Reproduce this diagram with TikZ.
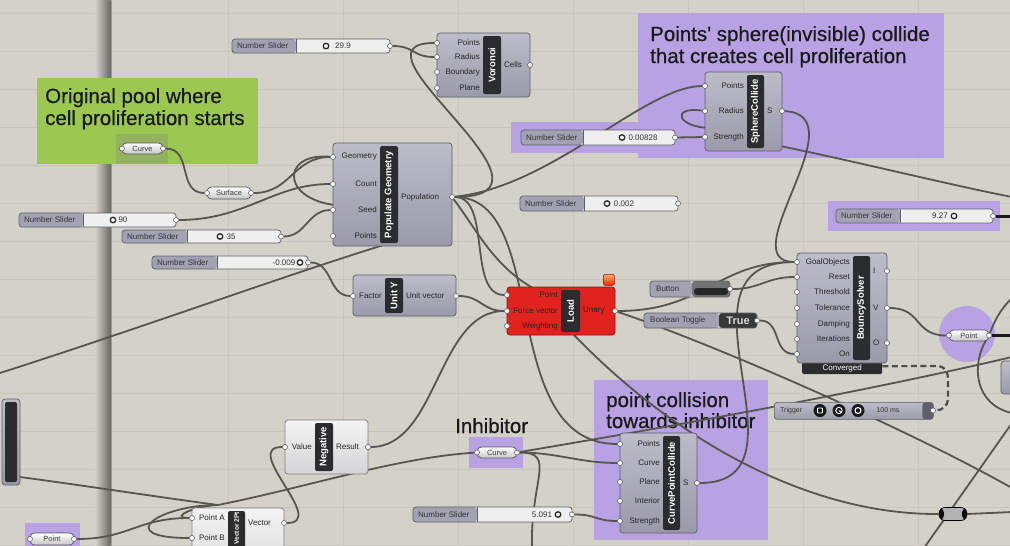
\documentclass[tikz,border=0pt]{standalone}
\usepackage{fontspec}
\setmainfont{Liberation Sans}
\newfontfamily\titlefont[FakeBold=0.6]{Liberation Sans}
\pgfdeclarelayer{bg}
\pgfdeclarelayer{wire}
\pgfsetlayers{bg,wire,main}

\definecolor{canvas}{HTML}{D4D1C8}
\definecolor{gridc}{HTML}{C8C5BC}
\definecolor{grpgreen}{HTML}{9CC852}
\definecolor{grppurple}{HTML}{B8A2E4}
\definecolor{wirec}{HTML}{57554F}
\definecolor{bodytop}{HTML}{BDBCC9}
\definecolor{bodybot}{HTML}{9B9AAA}
\definecolor{edgec}{HTML}{5F5E6A}
\definecolor{stripc}{HTML}{2C2C2E}
\definecolor{lighttop}{HTML}{F4F4F4}
\definecolor{lightbot}{HTML}{D4D4D6}
\definecolor{loadred}{HTML}{E2221E}
\definecolor{slidlbl}{HTML}{A3A2B3}
\definecolor{sliderw}{HTML}{EFEFEF}

\tikzset{
  comp/.style={draw=edgec, line width=0.7pt, rounded corners=3pt, top color=bodytop, bottom color=bodybot},
  lightcomp/.style={draw=edgec!80, line width=0.7pt, rounded corners=3pt, top color=lighttop, bottom color=lightbot},
  loadcomp/.style={draw=loadred!60!black, line width=0.7pt, rounded corners=3pt, fill=loadred},
  stripbox/.style={fill=stripc, rounded corners=2pt, inner sep=0pt, outer sep=0pt},
  striptxt/.style={rotate=90, text=white, font=\bfseries\fontsize{9.5}{10}\selectfont, inner sep=0pt},
  inlbl/.style={anchor=east, inner sep=0pt, font=\fontsize{8}{9}\selectfont, text=black!85},
  outlbl/.style={anchor=west, inner sep=0pt, font=\fontsize{8}{9}\selectfont, text=black!85},
  port/.style={circle, draw=edgec, fill=white, line width=0.6pt, inner sep=0pt, minimum size=5pt},
  sliderbox/.style={draw=edgec, line width=0.7pt, rounded corners=3pt, fill=sliderw, inner sep=0pt, outer sep=0pt},
  sldtxt/.style={inner sep=0pt, font=\fontsize{8}{9}\selectfont, text=black!80},
  knob/.style={circle, draw=black!85, line width=1.3pt, fill=white, inner sep=0pt, minimum size=5.5pt},
  parambox/.style={draw=edgec!90!black, line width=0.7pt, rounded corners=4.5pt, top color=white, bottom color=black!22, inner sep=0pt, outer sep=0pt},
  ptxt/.style={inner sep=0pt, font=\fontsize{7.5}{9}\selectfont, text=black!75},
  title/.style={anchor=base west, inner sep=0pt, font=\titlefont\fontsize{20.5}{24}\selectfont, text=black!90},
  wire/.style={draw=wirec, line width=1.8pt},
  treewire/.style={draw=black!90, line width=3pt},
  dashwire/.style={draw=black!70, line width=2.2pt, dash pattern=on 6pt off 3.5pt},
}

% component body: style, name, x1, y1, x2, y2
\newcommand\ghbody[6]{\node[#1,anchor=north west,inner sep=0pt,outer sep=0pt,minimum width={#5-#3},minimum height={#6-#4}] (#2) at (#3,#4) {};}
% black title strip: name, sx1, sx2, y1, y2, label
\newcommand\ghstrip[6]{%
  \node[stripbox,anchor=north west,minimum width={#3-#2},minimum height={#5-#4-6}] (#1-s) at (#2,{#4+3}) {};
  \node[striptxt] (#1-t) at (#1-s.center) {#6};}
% input / output port: name, x, y, label x, label
\newcommand\ghin[5]{\node[port] (#1) at (#2,#3) {};\node[inlbl] (#1-l) at (#4,#3) {#5};}
\newcommand\ghout[5]{\node[port] (#1) at (#2,#3) {};\node[outlbl] (#1-l) at (#4,#3) {#5};}
% number slider: name, x1, y1, x2, y2, split x, value, value x, knob x
\newcommand\ghslider[9]{%
  \node[sliderbox,anchor=north west,minimum width={#4-#2},minimum height={#5-#3},
    path picture={\fill[slidlbl] (path picture bounding box.north west) rectangle ++({#6-#2},{#5-#3});
      \draw[edgec,line width=0.6pt] ([xshift={#6-#2}]path picture bounding box.north west) -- ([xshift={#6-#2}]path picture bounding box.south west);}] (#1) at (#2,#3) {};
  \node[sldtxt,anchor=west] (#1-n) at ({#2+5},{(#3+#5)/2}) {Number Slider};
  \node[sldtxt] (#1-v) at ({#8},{(#3+#5)/2}) {#7};
  \node[knob] (#1-k) at ({#9},{(#3+#5)/2}) {};
  \node[port] (#1-o) at ({#4},{(#3+#5)/2}) {};}
% parameter capsule: name, x1, y1, x2, y2, text
\newcommand\ghparam[6]{%
  \node[parambox,anchor=north west,minimum width={#4-#2},minimum height={#5-#3}] (#1) at (#2,#3) {};
  \node[ptxt] (#1-t) at (#1.center) {#6};
  \node[port] (#1-i) at (#1.west) {};
  \node[port] (#1-o) at (#1.east) {};}

\begin{document}
\begin{tikzpicture}[x=1pt,y=-1pt]
\useasboundingbox (0,0) rectangle (1010,546);

% ---------- canvas, grid and groups ----------
\begin{pgfonlayer}{bg}
  \fill[canvas] (0,0) rectangle (1010,546);
  \foreach \gy in {13,51,...,545} \draw[gridc,line width=0.8pt] (0,\gy) -- (1010,\gy);
  \foreach \gx in {228,343,...,918} \draw[gridc,line width=0.8pt] (\gx,0) -- (\gx,546);
  \shade[left color=canvas, right color=canvas!50!black] (95,0) rectangle (110.5,546);
  \fill[canvas!75!black] (110.5,0) rectangle (112,546);

  % green group
  \fill[grpgreen] (37,78) rectangle (258,164);
  \fill[grpgreen!70!gray] (116,134) rectangle (168,164);
  \node[title] (g1a) at (45,103) {Original pool where};
  \node[title] (g1b) at (45,125) {cell proliferation starts};

  % purple groups
  \fill[grppurple] (638,13) rectangle (944,158);
  \fill[grppurple] (511,122) rectangle (683,153);
  \node[title] (g2a) at (650,41) {Points' sphere(invisible) collide};
  \node[title] (g2b) at (650,63) {that creates cell proliferation};
  \fill[grppurple] (828,201) rectangle (1000,231);
  \fill[grppurple] (967,334) circle (28);
  \fill[grppurple] (469,437) rectangle (523,468);
  \node[title] (g3) at (455,433) {Inhibitor};
  \fill[grppurple] (594,380) rectangle (768,540);
  \node[title] (g4a) at (606,407) {point collision};
  \node[title] (g4b) at (606,428) {towards inhibitor};
  \fill[grppurple] (25,523) rectangle (80,550);
\end{pgfonlayer}

% ---------- components ----------
% Populate Geometry
\ghbody{comp}{pg}{333}{143}{452}{246}
\ghstrip{pg}{380}{398}{143}{246}{Populate Geometry}
\ghin{pg-geo}{333}{157}{377}{Geometry}
\ghin{pg-cnt}{333}{184}{377}{Count}
\ghin{pg-seed}{333}{210}{377}{Seed}
\ghin{pg-pts}{333}{236}{377}{Points}
\ghout{pg-pop}{452}{197}{401}{Population}

% Voronoi
\ghbody{comp}{vor}{437}{33}{530}{97}
\ghstrip{vor}{483}{501}{33}{97}{Voronoi}
\ghin{vor-pts}{437}{43}{480}{Points}
\ghin{vor-rad}{437}{57}{480}{Radius}
\ghin{vor-bnd}{437}{72}{480}{Boundary}
\ghin{vor-pln}{437}{88}{480}{Plane}
\ghout{vor-cells}{530}{65}{504}{Cells}

% SphereCollide
\ghbody{comp}{sc}{705}{72}{782}{151}
\ghstrip{sc}{747}{764}{72}{151}{SphereCollide}
\ghin{sc-pts}{705}{86}{744}{Points}
\ghin{sc-rad}{705}{111}{744}{Radius}
\ghin{sc-str}{705}{137}{744}{Strength}
\ghout{sc-s}{782}{111}{767}{S}

% Unit Y
\ghbody{comp}{uy}{353}{275}{456}{316}
\ghstrip{uy}{385}{403}{275}{316}{Unit Y}
\ghin{uy-f}{353}{296}{382}{Factor}
\ghout{uy-v}{456}{296}{406}{Unit vector}

% Load
\node[draw=loadred!60!black, line width=0.5pt, rounded corners=1.5pt, top color=orange!60, bottom color=red!75!orange, anchor=north west, minimum width=11pt, minimum height=11pt, inner sep=0pt] (ld-flag) at (603,274) {};
\ghbody{loadcomp}{ld}{507}{287}{615}{335}
\ghstrip{ld}{561}{580}{287}{335}{Load}
\ghin{ld-pt}{507}{295}{558}{Point}
\ghin{ld-fv}{507}{311}{558}{Force vector}
\ghin{ld-w}{507}{326}{558}{Weighting}
\ghout{ld-u}{615}{311}{583}{Unary}

% BouncySolver
\node[fill=stripc, rounded corners=1.5pt, anchor=north west, minimum width=80pt, minimum height=12pt, inner sep=0pt, text=white, font=\fontsize{8}{9}\selectfont] (bs-conv) at (802,362) {Converged};
\ghbody{comp}{bs}{797}{253}{887}{363}
\ghstrip{bs}{853}{870}{253}{363}{BouncySolver}
\ghin{bs-goal}{797}{262}{850}{GoalObjects}
\ghin{bs-reset}{797}{277}{850}{Reset}
\ghin{bs-thr}{797}{292}{850}{Threshold}
\ghin{bs-tol}{797}{308}{850}{Tolerance}
\ghin{bs-damp}{797}{324}{850}{Damping}
\ghin{bs-it}{797}{339}{850}{Iterations}
\ghin{bs-on}{797}{354}{850}{On}
\ghout{bs-i}{887}{271}{873}{I}
\ghout{bs-v}{887}{308}{873}{V}
\ghout{bs-o}{887}{343}{873}{O}

% CurvePointCollide
\ghbody{comp}{cpc}{620}{433}{697}{533}
\ghstrip{cpc}{663}{680}{433}{533}{CurvePointCollide}
\ghin{cpc-pts}{620}{444}{660}{Points}
\ghin{cpc-crv}{620}{463}{660}{Curve}
\ghin{cpc-pln}{620}{482}{660}{Plane}
\ghin{cpc-int}{620}{501}{660}{Interior}
\ghin{cpc-str}{620}{521}{660}{Strength}
\ghout{cpc-s}{697}{483}{683}{S}

% Negative
\ghbody{lightcomp}{neg}{285}{420}{368}{474}
\ghstrip{neg}{315}{333}{420}{474}{Negative}
\ghin{neg-v}{285}{447}{312}{Value}
\ghout{neg-r}{368}{447}{336}{Result}

% Vector 2Pt (runs off the bottom edge)
\ghbody{lightcomp}{vp}{192}{508}{284}{585}
\node[stripbox,anchor=north west,minimum width=17pt,minimum height=70pt] (vp-s) at (228,511) {};
\node[striptxt,anchor=east,font=\bfseries\fontsize{6.6}{7}\selectfont] (vp-t) at (236.5,512) {Vector 2Pt};
\ghin{vp-a}{192}{518}{225}{Point A}
\ghin{vp-b}{192}{538}{225}{Point B}
\ghout{vp-v}{284}{523}{248}{Vector}

% components at the canvas edges
\ghbody{comp}{lc}{2}{399}{20}{485}
\node[stripbox,anchor=north west,minimum width=12pt,minimum height=80pt] (lc-s) at (5,402) {};
\coordinate (lc-o) at (20,477);
\ghbody{comp}{rf}{1001}{361}{1040}{394}

% parameters
\ghparam{crv1}{122}{143}{163}{154}{Curve}
\ghparam{srf}{207}{187}{251}{199}{Surface}
\ghparam{crv2}{477}{447}{517}{458}{Curve}
\ghparam{pt1}{949}{330}{989}{341}{Point}
\ghparam{pt2}{30}{533}{74}{545}{Point}

% sliders
\ghslider{s299}{232}{39}{390}{53}{296}{29.9}{343}{326}
\ghslider{s828}{521}{130}{675}{145}{583}{0.00828}{643}{622}
\ghslider{s90}{19}{213}{176}{227}{83}{90}{123}{113}
\ghslider{s35}{122}{230}{281}{243}{187}{35}{231}{220}
\ghslider{s009}{152}{256}{308}{269}{217}{-0.009}{284}{300}
\ghslider{s002}{520}{196}{678}{211}{584}{0.002}{624}{607}
\ghslider{s927}{836}{209}{993}{223}{900}{9.27}{940}{954}
\ghslider{s5091}{413}{507}{572}{522}{477}{5.091}{542}{558}

% button
\node[sliderbox,anchor=north west,minimum width=80pt,minimum height=16pt,
  path picture={\fill[slidlbl] (path picture bounding box.north west) rectangle ++(42,16);
    \fill[black!55] ([xshift=42pt]path picture bounding box.north west) rectangle (path picture bounding box.south east);
    \fill[black!85] ([xshift=44pt,yshift=-7pt]path picture bounding box.north west) rectangle ([xshift=-2pt,yshift=2pt]path picture bounding box.south east);}] (btn) at (650,281) {};
\node[sldtxt,anchor=west] (btn-t) at (656,289) {Button};
\node[port] (btn-o) at (730,289) {};

% boolean toggle
\node[sliderbox,anchor=north west,minimum width=113pt,minimum height=15pt,
  path picture={\fill[slidlbl] (path picture bounding box.north west) rectangle ++(75,15);
    \fill[black!78] ([xshift=75pt]path picture bounding box.north west) rectangle (path picture bounding box.south east);}] (tgl) at (644,313) {};
\node[sldtxt,anchor=west] (tgl-t) at (650,320.5) {Boolean Toggle};
\node[inner sep=0pt, font=\bfseries\fontsize{11}{12}\selectfont, text=black!15] (tgl-v) at (738,320.5) {True};
\node[port] (tgl-o) at (757,320.5) {};

% trigger
\node[comp,anchor=north west,inner sep=0pt,minimum width=159pt,minimum height=17pt,
  path picture={\fill[edgec] ([xshift=-11pt]path picture bounding box.north east) rectangle (path picture bounding box.south east);}] (trg) at (774,402) {};
\node[sldtxt,anchor=west,font=\fontsize{7}{8}\selectfont] (trg-t) at (780,410.5) {Trigger};
\node[circle,fill=black!90,minimum size=13pt,inner sep=0pt] (trg-b1) at (820,410.5) {};
\node[circle,fill=black!90,minimum size=13pt,inner sep=0pt] (trg-b2) at (839,410.5) {};
\node[circle,fill=black!90,minimum size=13pt,inner sep=0pt] (trg-b3) at (858,410.5) {};
\draw[white,line width=0.9pt,rounded corners=0.8pt] (817.5,408) rectangle (822.5,413);
\draw[white,line width=0.9pt] (839,410.5) circle (3.2);
\draw[white,line width=0.9pt] (839,410.5) -- (841,412.2);
\draw[white,line width=1.1pt] (858,410.5) circle (3);
\node[sldtxt,font=\fontsize{7}{8}\selectfont] (trg-ms) at (888,410.5) {100 ms};
\node[port] (trg-o) at (933,410.5) {};

% relay
\node[draw=black,line width=0.6pt,rounded corners=6pt,fill=black!30,minimum width=28pt,minimum height=13pt,inner sep=0pt,
  path picture={\fill[black] (path picture bounding box.north west) rectangle ++(5,13);
    \fill[black] (path picture bounding box.south east) rectangle ++(-5,-13);}] (rly) at (953,514) {};
\coordinate (rly-i) at (rly.west);
\coordinate (rly-o) at (rly.east);

% ---------- wires ----------
\begin{pgfonlayer}{wire}
  \coordinate (pgh1) at (350,206);
  \coordinate (pgh2) at (400,240);
  \coordinate (dl0) at (0,373);
  \coordinate (ldh1) at (560,300);
  \coordinate (ldh2) at (560,320);
  \coordinate (vtop) at (218,505);
  \coordinate (sch1) at (775,145);
  \coordinate (sch2) at (712,128);
  \coordinate (e2) at (1012,357);
  \coordinate (e3) at (532,548);
  \coordinate (e4) at (1012,512);
  \coordinate (e5) at (924,548);
  \coordinate (e6) at (1012,423);
  \coordinate (e7) at (1012,488);
  \coordinate (e8) at (1012,335.5);
  \coordinate (e9) at (1012,413);
  \coordinate (e10) at (1012,298);
  \coordinate (e11) at (1012,216);
  \coordinate (e12) at (1012,197);

  \draw[wire] (s299-o) .. controls +(25,0) and +(-25,0) .. (vor-rad);
  \draw[wire] (pg-pop) .. controls +(130,0) and +(-100,0) .. (vor-pts);
  \draw[wire] (pg-pop) .. controls +(100,-10) and +(-60,0) .. (sc-pts);
  \draw[wire] (pg-pop) .. controls +(40,0) and +(-40,0) .. (ld-pt);
  \draw[wire] (pg-pop) .. controls +(30,40) and +(-60,-20) .. (ldh1);
  \draw[wire] (pg-pop) .. controls +(100,0) and +(-125,0) .. (cpc-pts);
  \draw[wire] (s90-o) .. controls +(70,0) and +(-60,0) .. (pg-cnt);
  \draw[wire] (s35-o) .. controls +(25,0) and +(-25,0) .. (pg-seed);
  \draw[wire] (crv1-o) .. controls +(30,0) and +(-30,0) .. (srf-i);
  \draw[wire] (srf-o) .. controls +(40,0) and +(-40,0) .. (pg-geo);
  \draw[wire] (pg-geo) .. controls +(-55,-5) and +(-70,0) .. (pgh1);
  \draw[wire] (dl0) .. controls (150,325) and (300,270) .. (pgh2);
  \draw[wire] (s009-o) .. controls +(25,0) and +(-25,0) .. (uy-f);
  \draw[wire] (uy-v) .. controls +(25,0) and +(-25,0) .. (ld-fv);
  \draw[wire] (neg-r) .. controls +(70,0) and +(-70,0) .. (ld-fv);
  \draw[wire] (vp-v) .. controls +(45,0) and +(-45,0) .. (neg-v);
  \draw[wire] (pt2-o) .. controls +(55,0) and +(-55,0) .. (vp-a);
  \draw[wire] (lc-o) .. controls +(60,8) and +(-60,-8) .. (vtop);
  \draw[wire] (vtop) .. controls +(90,-18) and +(-80,5) .. (crv2-i);
  \draw[wire] (vp-a) .. controls +(-25,0) and +(-20,0) .. (vtop);
  \draw[wire] (vp-b) .. controls +(-80,0) and +(-60,0) .. (vtop);
  \draw[wire] (crv2-o) .. controls +(40,0) and +(-40,0) .. (cpc-crv);
  \draw[wire] (crv2-o) .. controls (650,430) and (850,395) .. (e2);
  \draw[wire] (crv2-o) .. controls +(40,0) and (530,480) .. (e3);
  \draw[wire] (s5091-o) .. controls +(25,0) and +(-25,0) .. (cpc-str);
  \draw[wire] (ldh2) .. controls (660,430) and (800,515) .. (rly-i);
  \draw[wire] (rly-o) -- (e4);
  \draw[wire] (e5) -- (e6);
  \draw[wire] (ld-u) .. controls +(90,30) and (900,425) .. (e7);
  \draw[wire] (ld-u) .. controls +(90,0) and +(-80,0) .. (bs-goal);
  \draw[wire] (btn-o) .. controls +(30,0) and +(-30,0) .. (bs-reset);
  \draw[wire] (tgl-o) .. controls +(25,0) and +(-25,0) .. (bs-on);
  \draw[wire] (sc-s) .. controls (860,115) and (730,262) .. (bs-goal);
  \draw[wire] (cpc-s) .. controls (820,483) and (660,262) .. (bs-goal);
  \draw[wire] (bs-v) .. controls +(35,0) and +(-35,0) .. (pt1-i);
  \draw[treewire] (pt1-o) -- (e8);
  \draw[wire] (pt1-o) .. controls (970,365) and (975,405) .. (e9);
  \draw[wire] (e10) .. controls (1000,310) and (995,320) .. (pt1-o);
  \draw[treewire] (s927-o) -- (e11);
  \draw[wire] (sch1) .. controls (850,160) and (950,185) .. (e12);
  \draw[wire] (s828-o) -- (sc-str);
  \draw[wire] (sc-rad) .. controls +(-35,-5) and +(-35,0) .. (sch2);
  \draw[dashwire] (bs-conv.east) ++(0,-2) -- (938,366) to[out=0,in=90] (948,378) -- (948,399) to[out=-90,in=0] (trg-o);
\end{pgfonlayer}
\end{tikzpicture}
\end{document}
